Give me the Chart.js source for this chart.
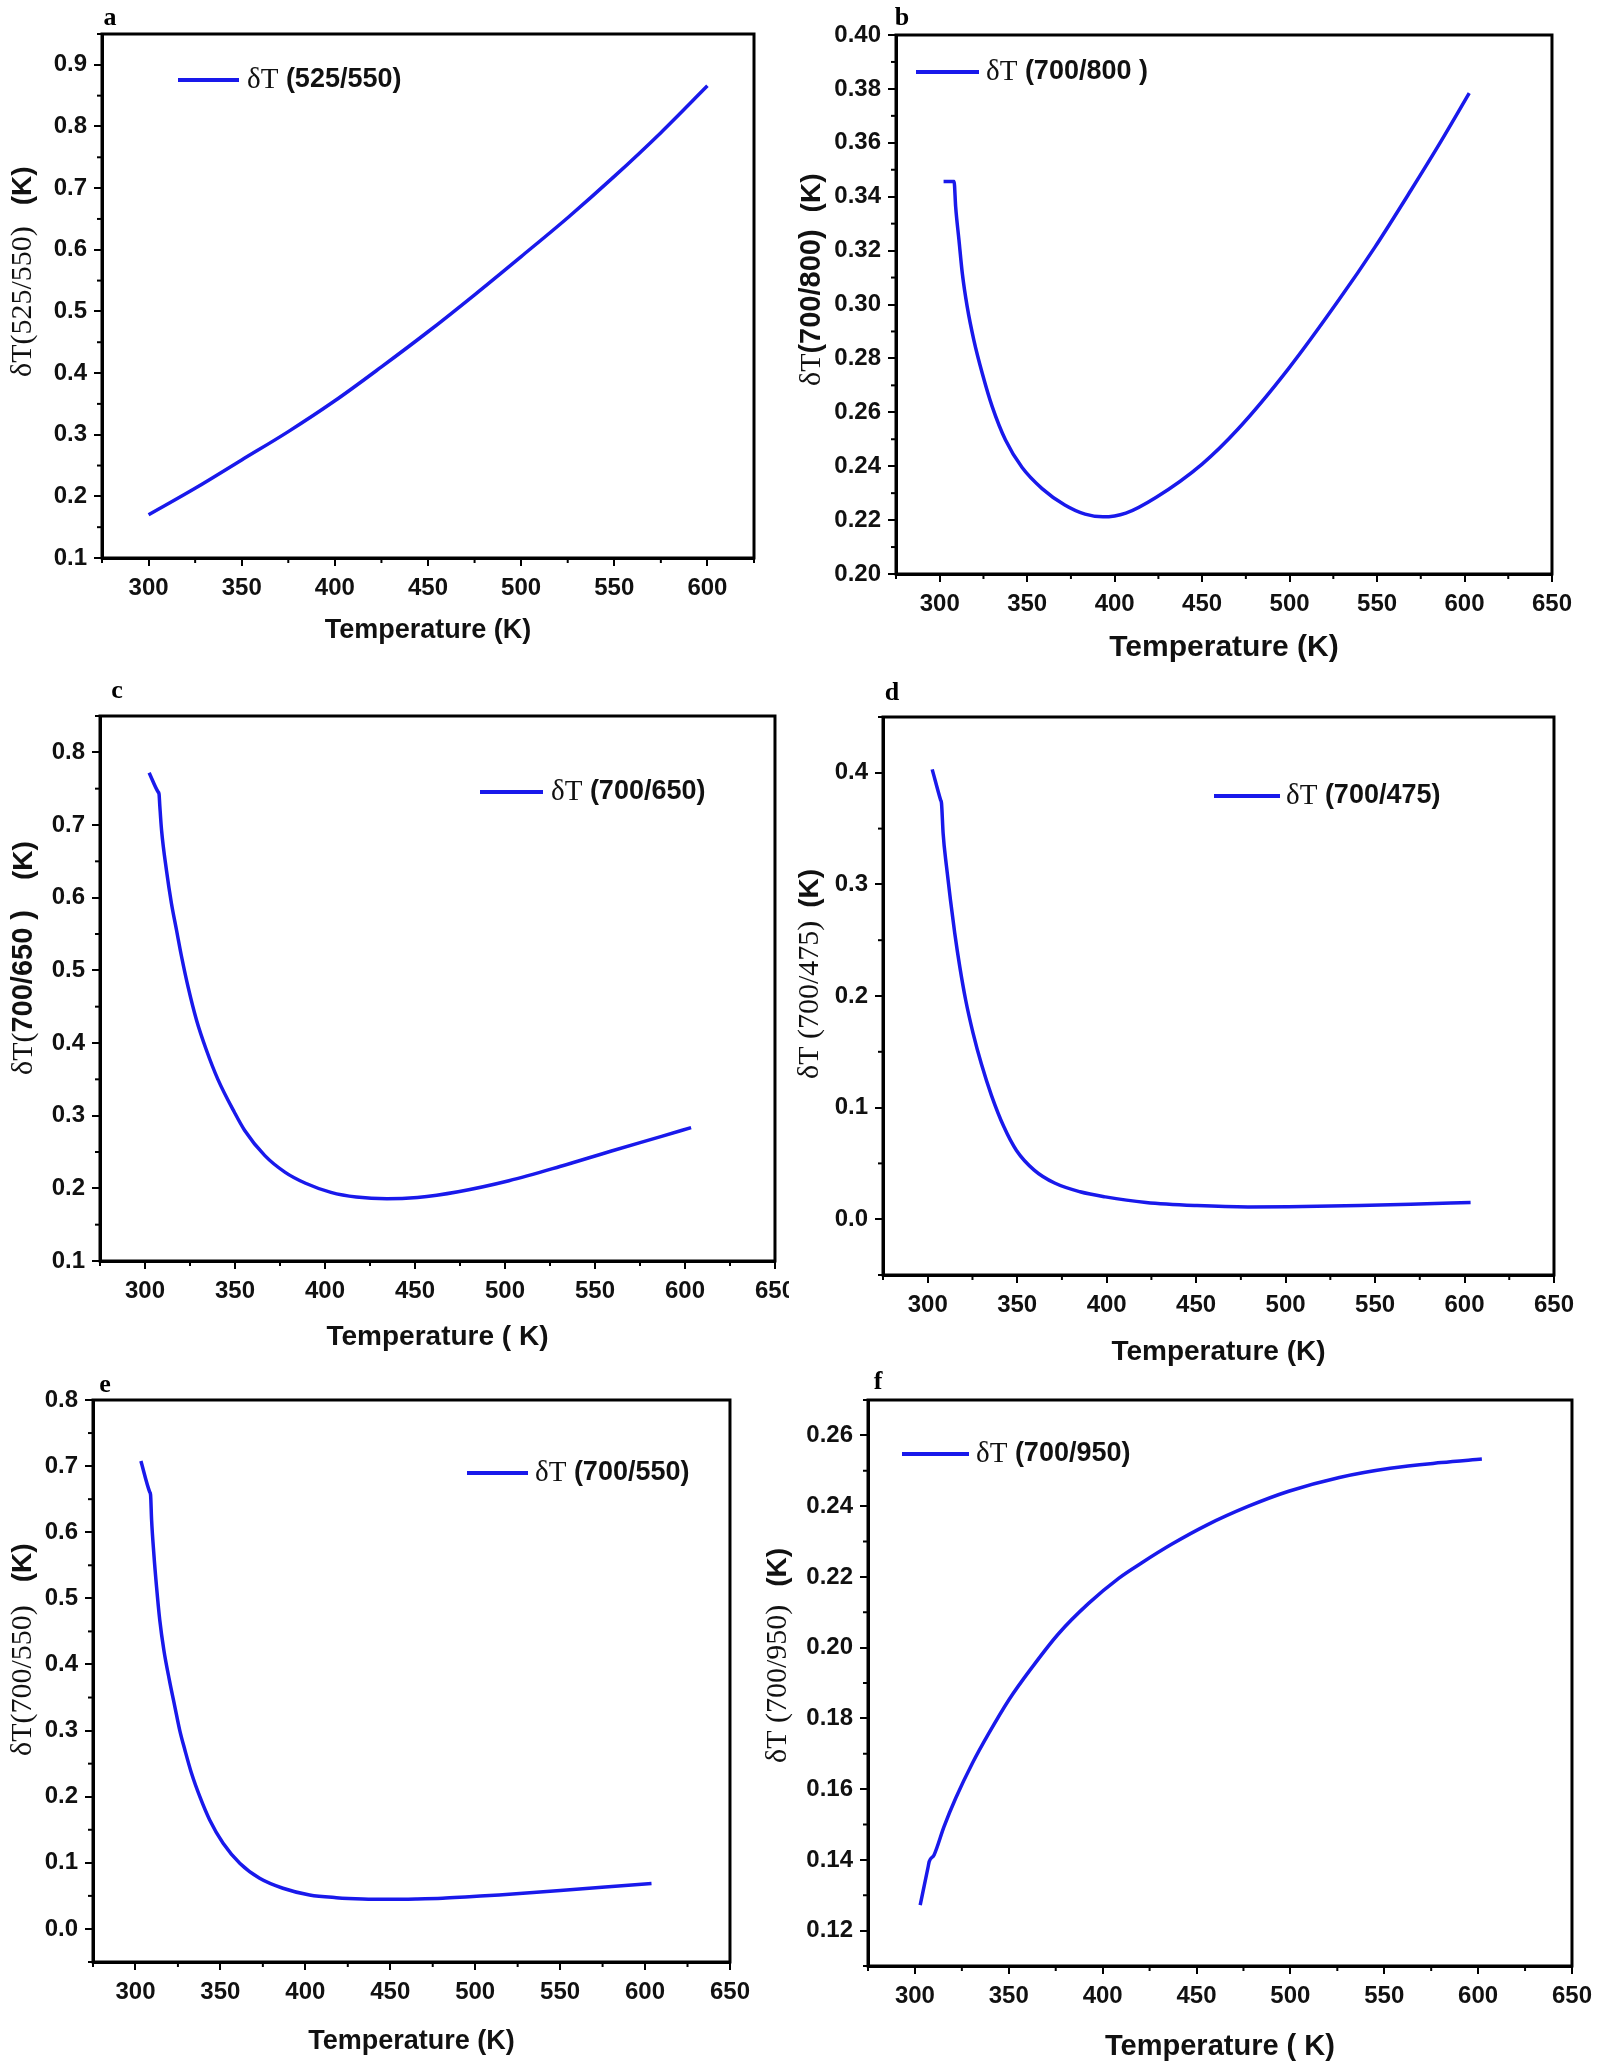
<!DOCTYPE html>
<html>
<head>
<meta charset="utf-8">
<script src="https://cdn.jsdelivr.net/npm/chart.js@4.4.0/dist/chart.umd.min.js"></script>
<style>
  html, body { margin: 0; padding: 0; background: #fff; overflow: hidden; }
  body { width: 1600px; height: 2066px; position: relative; }
  .box { position: absolute; overflow: hidden; }
  canvas { display: block; }
</style>
</head>
<body>
<div class="box"><canvas id="chartA"></canvas></div>
<div class="box"><canvas id="chartB"></canvas></div>
<div class="box"><canvas id="chartC"></canvas></div>
<div class="box"><canvas id="chartD"></canvas></div>
<div class="box"><canvas id="chartE"></canvas></div>
<div class="box"><canvas id="chartF"></canvas></div>
<script>
// values: temperature (K) and deltaT (K)
const tempA = [300, 325, 350, 375, 400, 425, 450, 475, 500, 525, 550, 575, 600];
const dTA = [0.170, 0.213, 0.259, 0.305, 0.355, 0.410, 0.467, 0.527, 0.589, 0.652, 0.719, 0.790, 0.866];

const tempB = [302.2, 308.2, 309.1, 311, 312.9, 315.7, 319.5, 324.3, 330, 337.6, 347.1, 358.5, 371.5, 383.1, 393.3, 406.4, 423.8, 450, 470.4, 499.4, 528.5, 548.8, 569.2, 586.7, 602.7];
const dTB = [0.3456, 0.3456, 0.3363, 0.3239, 0.3116, 0.2992, 0.2868, 0.2745, 0.2621, 0.2497, 0.2395, 0.2317, 0.2256, 0.2222, 0.2212, 0.2226, 0.2285, 0.2408, 0.2537, 0.2762, 0.302, 0.3213, 0.3422, 0.3607, 0.3784];

const tempC = [302.3, 307.3, 307.8, 308.2, 309.2, 311.9, 314.7, 317.5, 320.3, 323.9, 328.6, 334.1, 340.5, 349.6, 355.3, 366.6, 377.9, 389.2, 403.3, 417.4, 434.4, 451.4, 474, 502.2, 530.5, 558.7, 587, 603.4];
const dTC = [0.772, 0.7454, 0.7427, 0.7275, 0.693, 0.638, 0.592, 0.5555, 0.519, 0.4775, 0.4317, 0.3904, 0.350, 0.305, 0.280, 0.245, 0.222, 0.207, 0.1945, 0.188, 0.1855, 0.1875, 0.1954, 0.2105, 0.230, 0.251, 0.2715, 0.2835];

const tempD = [302.5, 307.2, 307.7, 308.6, 310.5, 312.7, 315.1, 317.9, 321.2, 325.3, 330, 335.6, 342.5, 349.6, 359.5, 370.9, 385.1, 399.3, 422, 450.5, 479, 501.7, 541.4, 569.9, 603.4];
const dTD = [0.4031, 0.3756, 0.3727, 0.3458, 0.3159, 0.286, 0.2562, 0.2263, 0.1964, 0.167, 0.139, 0.111, 0.083, 0.0616, 0.044, 0.0324, 0.0246, 0.020, 0.015, 0.0122, 0.011, 0.0112, 0.0122, 0.0133, 0.015];

const tempE = [303.2, 308.4, 308.9, 309.5, 310.8, 312.4, 314.3, 316.7, 320, 323.2, 326.1, 329.1, 333, 337.9, 343.7, 351.6, 361.4, 373.1, 386.8, 402.5, 418.2, 433.8, 449.5, 465.2, 480.8, 496.5, 514.1, 550.1, 603.8];
const dTE = [0.7077, 0.6608, 0.6563, 0.6185, 0.568, 0.5177, 0.4673, 0.422, 0.376, 0.336, 0.300, 0.2707, 0.2354, 0.200, 0.1648, 0.1295, 0.0993, 0.0766, 0.0615, 0.0514, 0.0473, 0.0453, 0.0448, 0.0453, 0.0464, 0.0488, 0.0514, 0.0583, 0.0686];

const tempF = [302.8, 307.1, 307.6, 310.2, 315.5, 321.7, 330.6, 339.4, 350, 362.5, 376.6, 392.5, 408.5, 420.9, 436.7, 455.7, 477.4, 499.1, 526.1, 553.2, 580.4, 602];
const dTF = [0.1272, 0.1382, 0.1395, 0.1414, 0.1494, 0.1574, 0.1673, 0.1758, 0.1852, 0.1945, 0.204, 0.2125, 0.2196, 0.224, 0.2292, 0.2347, 0.2399, 0.2442, 0.2481, 0.2507, 0.2523, 0.2533];

// tick labels
const xTicksA = [300, 350, 400, 450, 500, 550, 600];
const xTicks = [300, 350, 400, 450, 500, 550, 600, 650];
const yTicksA = [0.1, 0.2, 0.3, 0.4, 0.5, 0.6, 0.7, 0.8, 0.9];
const yTicksB = [0.20, 0.22, 0.24, 0.26, 0.28, 0.30, 0.32, 0.34, 0.36, 0.38, 0.40];
const yTicksC = [0.1, 0.2, 0.3, 0.4, 0.5, 0.6, 0.7, 0.8];
const yTicksD = [0.0, 0.1, 0.2, 0.3, 0.4];
const yTicksE = [0.0, 0.1, 0.2, 0.3, 0.4, 0.5, 0.6, 0.7, 0.8];
const yTicksF = [0.12, 0.14, 0.16, 0.18, 0.20, 0.22, 0.24, 0.26];

const PAD_L = 110, PAD_T = 40, PAD_R = 26, PAD_B = 100;
const lineColor = 'rgb(25,25,235)';
const SANS = '"Liberation Sans", Arial, sans-serif';
const SERIF = '"Liberation Serif", "Times New Roman", serif';
const serif = s => `${s}px ${SERIF}`;
const sansB = s => `bold ${s}px ${SANS}`;

function minorTicks(major, min, max) {
  const step = major[1] - major[0];
  const out = [];
  for (let v = major[0] - step / 2; v <= max + 1e-9; v += step) {
    if (v >= min - 1e-9) out.push(v);
  }
  return out;
}

function drawRich(ctx, parts, x, y, angle) {
  ctx.save();
  ctx.translate(x, y);
  ctx.rotate(angle);
  ctx.textAlign = 'left';
  ctx.textBaseline = 'middle';
  ctx.fillStyle = '#111';
  let cx = 0;
  parts.forEach(p => {
    if (p.gap) { cx += p.gap; return; }
    ctx.font = p.font;
    ctx.fillText(p.text, cx, 0);
    cx += ctx.measureText(p.text).width;
  });
  ctx.restore();
}

function decor(o) {
  return {
    id: 'decor',
    afterDraw(chart) {
      const { ctx, chartArea: ca, scales: { x, y } } = chart;
      const ox = o.frame.l - PAD_L, oy = o.frame.t - PAD_T;
      ctx.save();
      ctx.strokeStyle = '#000';
      ctx.lineWidth = 2;
      minorTicks(o.xTicks, x.min, x.max).forEach(v => {
        const px = x.getPixelForValue(v);
        ctx.beginPath(); ctx.moveTo(px, ca.bottom); ctx.lineTo(px, ca.bottom + 5); ctx.stroke();
      });
      minorTicks(o.yTicks, y.min, y.max).forEach(v => {
        const py = y.getPixelForValue(v);
        ctx.beginPath(); ctx.moveTo(ca.left, py); ctx.lineTo(ca.left - 5, py); ctx.stroke();
      });
      ctx.lineWidth = 3;
      ctx.strokeRect(ca.left, ca.top, ca.right - ca.left, ca.bottom - ca.top);

      // panel letter
      ctx.fillStyle = '#000';
      ctx.font = 'bold 26px ' + SERIF;
      ctx.textAlign = 'center';
      ctx.textBaseline = 'middle';
      ctx.fillText(o.letter, o.letterAt[0] - ox, o.letterAt[1] - oy);

      // legend: line sample + label (serif deltaT, bold sans rest)
      const lg = o.legend;
      const label = chart.data.datasets[0].label;
      ctx.strokeStyle = chart.data.datasets[0].borderColor;
      ctx.lineWidth = 4;
      ctx.beginPath(); ctx.moveTo(lg.x1 - ox, lg.y - oy); ctx.lineTo(lg.x2 - ox, lg.y - oy); ctx.stroke();
      drawRich(ctx, [{ text: label.slice(0, 2), font: serif(29) }, { text: label.slice(2), font: sansB(27) }],
        lg.tx - ox, lg.y - oy, 0);

      // y axis title, reading bottom to top
      drawRich(ctx, o.yTitle.parts, o.yTitle.x - ox, o.yTitle.y0 - oy, -Math.PI / 2);
      ctx.restore();
    }
  };
}

function makeChart(id, o) {
  const w = o.frame.r - o.frame.l + PAD_L + PAD_R;
  const h = o.frame.b - o.frame.t + PAD_T + PAD_B;
  const canvas = document.getElementById(id);
  canvas.width = w;
  canvas.height = h;
  const box = canvas.parentElement;
  box.style.left = (o.frame.l - PAD_L) + 'px';
  box.style.top = (o.frame.t - PAD_T) + 'px';
  box.style.width = (o.clipRight ? o.clipRight - (o.frame.l - PAD_L) : w) + 'px';
  box.style.height = h + 'px';

  const tickFont = { family: SANS, weight: 'bold', size: 24 };
  new Chart(canvas.getContext('2d'), {
    type: 'line',
    data: {
      datasets: [{
        label: o.label,
        data: o.temp.map((t, i) => ({ x: t, y: o.dT[i] })),
        borderColor: lineColor,
        borderWidth: 3.5,
        pointRadius: 0,
        cubicInterpolationMode: 'monotone',
        fill: false
      }]
    },
    options: {
      responsive: false,
      animation: false,
      devicePixelRatio: 1,
      layout: { padding: { top: PAD_T, right: PAD_R, left: 0, bottom: 0 } },
      plugins: { legend: { display: false }, tooltip: { enabled: false } },
      scales: {
        x: {
          type: 'linear',
          min: o.xMin,
          max: o.xMax,
          afterBuildTicks: s => { s.ticks = o.xTicks.map(v => ({ value: v })); },
          afterFit: s => { s.height = PAD_B; },
          ticks: { font: tickFont, color: '#111', padding: 8, autoSkip: false, maxRotation: 0, callback: v => String(v) },
          grid: { drawOnChartArea: false, drawTicks: true, tickLength: 8, color: '#000', lineWidth: 2 },
          border: { display: true, color: '#000', width: 3 },
          title: { display: true, text: o.xTitle, color: '#111',
            font: { family: SANS, weight: 'bold', size: o.xTitleSize },
            padding: { top: 0, bottom: o.xTitlePad } }
        },
        y: {
          min: o.yMin,
          max: o.yMax,
          afterBuildTicks: s => { s.ticks = o.yTicks.map(v => ({ value: v })); },
          afterFit: s => { s.width = PAD_L; },
          ticks: { font: tickFont, color: '#111', padding: 7, autoSkip: false, callback: v => v.toFixed(o.yDec) },
          grid: { drawOnChartArea: false, drawTicks: true, tickLength: 8, color: '#000', lineWidth: 2 },
          border: { display: true, color: '#000', width: 3 }
        }
      }
    },
    plugins: [decor(o)]
  });
}

makeChart('chartA', {
  frame: { l: 102, t: 34, r: 754, b: 558 },
  temp: tempA, dT: dTA, label: 'δT (525/550)',
  xMin: 275, xMax: 625, xTicks: xTicksA,
  yMin: 0.1, yMax: 0.95, yTicks: yTicksA, yDec: 1,
  xTitle: 'Temperature (K)', xTitleSize: 27, xTitlePad: 11,
  letter: 'a', letterAt: [110, 18],
  legend: { x1: 178, x2: 239, y: 80, tx: 247 },
  yTitle: { x: 23, y0: 377, parts: [{ text: 'δT(525/550)', font: serif(30) }, { gap: 21 }, { text: '(K)', font: sansB(28) }] }
});

makeChart('chartB', {
  frame: { l: 896, t: 35, r: 1554, b: 574 },
  temp: tempB, dT: dTB, label: 'δT (700/800 )',
  xMin: 275, xMax: 650, xTicks: xTicks,
  yMin: 0.2, yMax: 0.4, yTicks: yTicksB, yDec: 2,
  xTitle: 'Temperature (K)', xTitleSize: 30, xTitlePad: 8,
  letter: 'b', letterAt: [902, 18],
  legend: { x1: 916, x2: 979, y: 72, tx: 986 },
  yTitle: { x: 812, y0: 386, parts: [{ text: 'δT', font: serif(30) }, { text: '(700/800)', font: sansB(29) }, { gap: 17 }, { text: '(K)', font: sansB(28) }] }
});

makeChart('chartC', {
  frame: { l: 100, t: 716, r: 777, b: 1261 },
  temp: tempC, dT: dTC, label: 'δT (700/650)',
  xMin: 275, xMax: 650, xTicks: xTicks,
  yMin: 0.1, yMax: 0.85, yTicks: yTicksC, yDec: 1,
  xTitle: 'Temperature ( K)', xTitleSize: 28, xTitlePad: 7,
  letter: 'c', letterAt: [117, 691],
  clipRight: 789,
  legend: { x1: 480, x2: 543, y: 792, tx: 551 },
  yTitle: { x: 24, y0: 1075, parts: [{ text: 'δT(', font: serif(30) }, { text: '700/650 )', font: sansB(29) }, { gap: 30 }, { text: '(K)', font: sansB(28) }] }
});

makeChart('chartD', {
  frame: { l: 883, t: 717, r: 1556, b: 1275 },
  temp: tempD, dT: dTD, label: 'δT (700/475)',
  xMin: 275, xMax: 650, xTicks: xTicks,
  yMin: -0.05, yMax: 0.45, yTicks: yTicksD, yDec: 1,
  xTitle: 'Temperature (K)', xTitleSize: 28, xTitlePad: 6,
  letter: 'd', letterAt: [892, 693],
  legend: { x1: 1214, x2: 1280, y: 796, tx: 1286 },
  yTitle: { x: 810, y0: 1079, parts: [{ text: 'δT (700/475)', font: serif(30) }, { gap: 13 }, { text: '(K)', font: sansB(28) }] }
});

makeChart('chartE', {
  frame: { l: 93, t: 1400, r: 732, b: 1962 },
  temp: tempE, dT: dTE, label: 'δT (700/550)',
  xMin: 275, xMax: 650, xTicks: xTicks,
  yMin: -0.05, yMax: 0.8, yTicks: yTicksE, yDec: 1,
  xTitle: 'Temperature (K)', xTitleSize: 27, xTitlePad: 4,
  letter: 'e', letterAt: [105, 1385],
  legend: { x1: 467, x2: 528, y: 1473, tx: 535 },
  yTitle: { x: 23, y0: 1756, parts: [{ text: 'δT(700/550)', font: serif(30) }, { gap: 23 }, { text: '(K)', font: sansB(28) }] }
});

makeChart('chartF', {
  frame: { l: 868, t: 1400, r: 1574, b: 1966 },
  temp: tempF, dT: dTF, label: 'δT (700/950)',
  xMin: 275, xMax: 650, xTicks: xTicks,
  yMin: 0.11, yMax: 0.27, yTicks: yTicksF, yDec: 2,
  xTitle: 'Temperature ( K)', xTitleSize: 29, xTitlePad: 2,
  letter: 'f', letterAt: [878, 1382],
  legend: { x1: 902, x2: 969, y: 1454, tx: 976 },
  yTitle: { x: 778, y0: 1763, parts: [{ text: 'δT (700/950)', font: serif(30) }, { gap: 18 }, { text: '(K)', font: sansB(28) }] }
});
</script>
</body>
</html>
